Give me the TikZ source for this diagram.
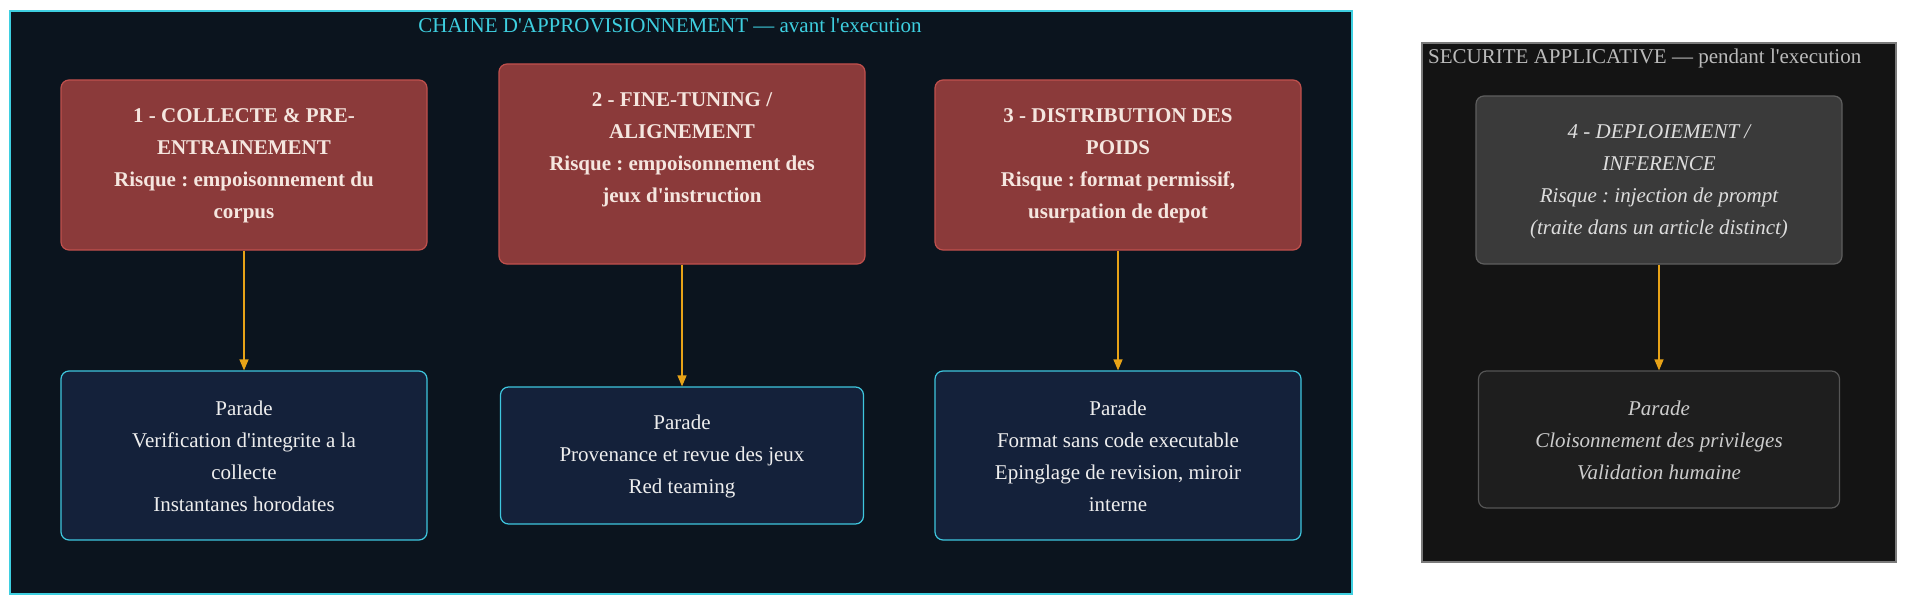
\documentclass[tikz,border=0pt]{standalone}
\usepackage{fontspec}
\setmainfont{Liberation Serif}
\usetikzlibrary{arrows.meta}
\definecolor{cOneBg}{HTML}{0B141E}
\definecolor{cCyan}{HTML}{3ECFE0}
\definecolor{cRedFill}{HTML}{8B3A3A}
\definecolor{cRedLine}{HTML}{C0504D}
\definecolor{cRedText}{HTML}{F5E6DF}
\definecolor{cParFill}{HTML}{14213A}
\definecolor{cParLine}{HTML}{3EC6DE}
\definecolor{cParText}{HTML}{EEEEEE}
\definecolor{cArrow}{HTML}{E8A317}
\definecolor{cTwoBg}{HTML}{141414}
\definecolor{cTwoLine}{HTML}{7A7A7A}
\definecolor{cTwoTitle}{HTML}{BBBBBB}
\definecolor{cFourFill}{HTML}{3A3A3A}
\definecolor{cFourLine}{HTML}{5E5E5E}
\definecolor{cFourText}{HTML}{DDDDDD}
\definecolor{cPFourFill}{HTML}{1E1E1E}
\definecolor{cPFourLine}{HTML}{555555}
\definecolor{cPFourText}{HTML}{CCCCCC}
\newcommand{\aq}{\textquotesingle}
\frenchspacing
\tikzset{
  clusterbox/.style={anchor=north west, inner sep=0, outer sep=0},
  riskbox/.style={draw=cRedLine, fill=cRedFill, line width=1.2pt, rounded corners=8pt, minimum width=366pt, inner sep=0},
  riskgray/.style={draw=cFourLine, fill=cFourFill, line width=1.2pt, rounded corners=8pt, minimum width=366pt, inner sep=0},
  parbox/.style={draw=cParLine, fill=cParFill, line width=1.2pt, rounded corners=8pt, inner sep=0},
  pargray/.style={draw=cPFourLine, fill=cPFourFill, line width=1.2pt, rounded corners=8pt, inner sep=0},
  risktext/.style={align=center, text=cRedText, font=\fontsize{21}{32}\selectfont\bfseries, inner sep=0},
  partext/.style={align=center, text=cParText, font=\fontsize{21}{32}\selectfont, inner sep=0},
  graytext/.style={align=center, text=cFourText, font=\fontsize{21}{32}\selectfont\itshape, inner sep=0},
  pgraytext/.style={align=center, text=cPFourText, font=\fontsize{21}{32}\selectfont\itshape, inner sep=0},
  flow/.style={draw=cArrow, line width=1.3pt, -{Triangle[length=11pt, width=9pt]}},
}
\begin{document}
\begin{tikzpicture}[x=1pt,y=-1pt]
\useasboundingbox[fill=white] (0,0) rectangle (1920,610);
% clusters
\node[clusterbox, draw=cCyan, fill=cOneBg, line width=2.5pt, minimum width=1342pt, minimum height=583pt] (c1) at (10,11) {};
\node[clusterbox, draw=cTwoLine, fill=cTwoBg, line width=2pt, minimum width=474pt, minimum height=519pt] (c2) at (1422,43) {};
\node[text=cCyan, font=\fontsize{21}{24}\selectfont, inner sep=0] (t1) at (670,25) {CHAINE D\aq APPROVISIONNEMENT — avant l\aq execution};
\node[text=cTwoTitle, font=\fontsize{21}{24}\selectfont, inner sep=0, anchor=west] (t2) at (1428,58) {SECURITE APPLICATIVE — pendant l\aq execution};
% risk boxes
\node[riskbox, minimum height=170pt] (b1) at (244,165) {};
\node[riskbox, minimum height=200pt] (b2) at (682,164) {};
\node[riskbox, minimum height=170pt] (b3) at (1118,165) {};
\node[riskgray, minimum height=168pt] (b4) at (1659,180) {};
\node[risktext] (b1t) at (244,166) {1 - COLLECTE \& PRE-\\ENTRAINEMENT\\Risque : empoisonnement du\\corpus};
\node[risktext] (b2t) at (682,150) {2 - FINE-TUNING /\\ALIGNEMENT\\Risque : empoisonnement des\\jeux d\aq instruction};
\node[risktext] (b3t) at (1118,166) {3 - DISTRIBUTION DES\\POIDS\\Risque : format permissif,\\usurpation de depot};
\node[graytext] (b4t) at (1659,182) {4 - DEPLOIEMENT /\\INFERENCE\\Risque : injection de prompt\\(traite dans un article distinct)};
% parade boxes
\node[parbox, minimum width=366pt, minimum height=169pt] (p1) at (244,455.5) {};
\node[parbox, minimum width=363pt, minimum height=137pt] (p2) at (682,455.5) {};
\node[parbox, minimum width=366pt, minimum height=169pt] (p3) at (1118,455.5) {};
\node[pargray, minimum width=361pt, minimum height=137pt] (p4) at (1659,439.5) {};
\node[partext] (p1t) at (244,456) {Parade\\Verification d\aq integrite a la\\collecte\\Instantanes horodates};
\node[partext] (p2t) at (682,456) {Parade\\Provenance et revue des jeux\\Red teaming};
\node[partext] (p3t) at (1118,456) {Parade\\Format sans code executable\\Epinglage de revision, miroir\\interne};
\node[pgraytext] (p4t) at (1659,440) {Parade\\Cloisonnement des privileges\\Validation humaine};
% arrows
\draw[flow] (b1.south) -- (p1.north);
\draw[flow] (b2.south) -- (p2.north);
\draw[flow] (b3.south) -- (p3.north);
\draw[flow] (b4.south) -- (p4.north);
\end{tikzpicture}
\end{document}
